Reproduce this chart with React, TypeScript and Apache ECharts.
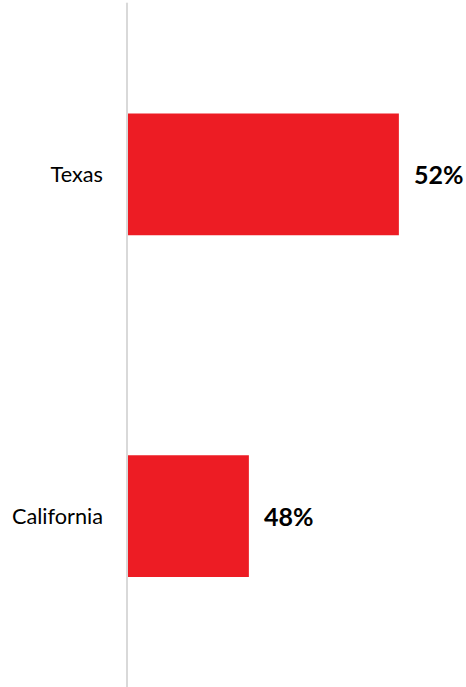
import React, { useEffect, useRef } from "react";
import * as echarts from "echarts";

const categories = ["Texas", "California"];
const shares = [52, 48];
const axisMin = 44.75;
const axisMax = 53;

export default function App() {
  const ref = useRef<HTMLDivElement>(null);
  useEffect(() => {
    if (!ref.current) return;
    const chart = echarts.init(ref.current, null, { renderer: "svg" });
    chart.setOption({
      animation: false,
      backgroundColor: "#ffffff",
      grid: { left: 127, width: 309.375, top: 3.5, height: 686, containLabel: false },
      xAxis: {
        type: "value",
        min: axisMin,
        max: axisMax,
        show: false,
      },
      yAxis: {
        type: "category",
        data: categories,
        inverse: true,
        axisLine: { show: true, onZero: false, lineStyle: { color: "#d9d9d9", width: 2 } },
        axisTick: { show: false },
        axisLabel: {
          margin: 24,
          color: "#000000",
          fontSize: 21.7,
          fontFamily: "Lato",
        },
        z: 10,
      },
      series: [
        {
          type: "bar",
          data: shares,
          barCategoryGap: "64.4%",
          itemStyle: { color: "#ed1c24" },
          label: {
            show: true,
            position: "right",
            distance: 15,
            formatter: (p: any) => p.value + "%",
            color: "#000000",
            fontSize: 25,
            fontWeight: "bold",
            fontFamily: "Lato",
          },
        },
      ],
    });
    return () => chart.dispose();
  }, []);
  return <div ref={ref} style={{ position: "absolute", left: 0, top: 0, width: 466, height: 687 }} />;
}
